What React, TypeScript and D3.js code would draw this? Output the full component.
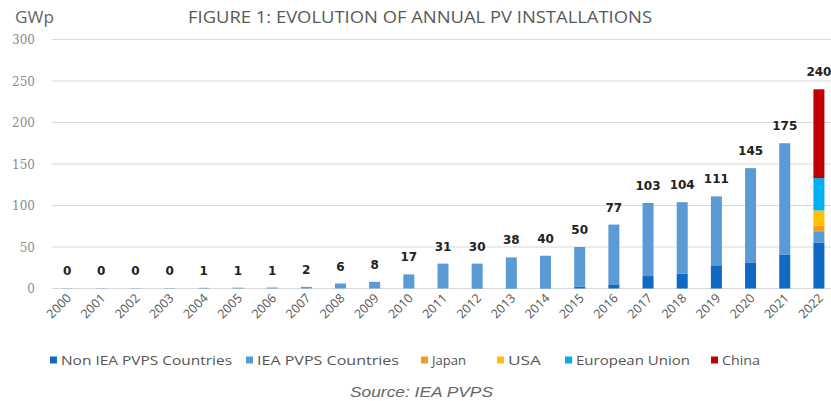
import React from "react";
import * as d3 from "d3";

const years = ["2000","2001","2002","2003","2004","2005","2006","2007","2008","2009","2010","2011","2012","2013","2014","2015","2016","2017","2018","2019","2020","2021","2022"];
const totalLabels = [0,0,0,0,1,1,1,2,6,8,17,31,30,38,40,50,77,103,104,111,145,175,240];
const nonIEA = [0,0,0,0,0,0,0,0,0,0,0,0,0.5,0.5,0.5,2,5,15,18,28,31.5,41,55];
const iea = [0.3,0.3,0.3,0.4,0.8,1,1.2,2,6,8,17,30,29.5,37,39,48,72,88,86,83,113.5,134,14];
const japan = [0,0,0,0,0,0,0,0,0,0,0,0,0,0,0,0,0,0,0,0,0,0,7];
const usa = [0,0,0,0,0,0,0,0,0,0,0,0,0,0,0,0,0,0,0,0,0,0,18];
const eu = [0,0,0,0,0,0,0,0,0,0,0,0,0,0,0,0,0,0,0,0,0,0,39];
const china = [0,0,0,0,0,0,0,0,0,0,0,0,0,0,0,0,0,0,0,0,0,0,107];
const seriesNames = ["Non IEA PVPS Countries","IEA PVPS Countries","Japan","USA","European Union","China"];
const seriesColors = ["#1069c2","#5b9bd5","#f39c1e","#ffc000","#00b0f0","#c00000"];
const yTicks = [0,50,100,150,200,250,300];

// legend layout (x of swatch, text width)
const legendX = [50, 246, 421, 497, 565, 711];
const legendW = [171, 142, 34, 33, 114, 38];

export default function App() {
  const seriesValues = [nonIEA, iea, japan, usa, eu, china];
  const table = years.map((y, i) => {
    const row: any = { year: y };
    seriesNames.forEach((s, k) => (row[s] = seriesValues[k][i]));
    return row;
  });
  const stacked = d3.stack().keys(seriesNames)(table);
  const x = d3.scalePoint().domain(years).range([50, 836]).padding(0.5);
  const y = d3.scaleLinear().domain([0, 300]).range([288.5, 39.5]);
  const bw = 11;
  const totals = years.map((_, i) => d3.sum(seriesValues, (s) => s[i]));

  return (
    <svg width={831} height={401} style={{ position: "absolute", left: 0, top: 0, background: "#fff" }}>
      <text x={15} y={23} fontFamily="Open Sans" fontSize={16} fill="#666" textLength={39} lengthAdjust="spacingAndGlyphs">GWp</text>
      <text x={188} y={23} fontFamily="Open Sans" fontSize={16} fill="#595959" textLength={464} lengthAdjust="spacingAndGlyphs">FIGURE 1: EVOLUTION OF ANNUAL PV INSTALLATIONS</text>
      {yTicks.map((t) => (
        <g key={t}>
          <line x1={52} x2={831} y1={y(t)} y2={y(t)} stroke="#d9d9d9" strokeWidth={1.2} />
          <text x={35} y={y(t) + 4.5} textAnchor="end" fontFamily="DejaVu Serif" fontSize={12} fill="#8a8a8a">{t}</text>
        </g>
      ))}
      {stacked.map((s, k) => (
        <g key={k} fill={seriesColors[k]}>
          {s.map((d, i) =>
            d[1] - d[0] > 0 ? (
              <rect key={i} x={(x(years[i]) as number) - bw / 2} width={bw} y={y(d[1])} height={y(d[0]) - y(d[1])} />
            ) : null
          )}
        </g>
      ))}
      {years.map((yr, i) => (
        <text key={yr} x={x(yr)} y={y(totals[i]) - 13} textAnchor="middle" fontFamily="DejaVu Sans" fontWeight="bold" fontSize={12} fill="#222">{totalLabels[i]}</text>
      ))}
      {years.map((yr) => (
        <text key={"x" + yr} transform={`translate(${(x(yr) as number) + 5},${299}) rotate(-45)`} textAnchor="end" fontFamily="Open Sans" fontSize={12.5} fill="#555">{yr}</text>
      ))}
      {seriesNames.map((n, k) => (
        <g key={n}>
          <rect x={legendX[k]} y={356.5} width={7} height={7} fill={seriesColors[k]} />
          <text x={legendX[k] + 11} y={364.5} fontFamily="Open Sans" fontSize={13.5} fill="#555" textLength={legendW[k]} lengthAdjust="spacingAndGlyphs">{n}</text>
        </g>
      ))}
      <text x={350} y={397} fontFamily="Liberation Sans" fontStyle="italic" fontSize={15} fill="#666" textLength={143} lengthAdjust="spacingAndGlyphs">Source: IEA PVPS</text>
    </svg>
  );
}
